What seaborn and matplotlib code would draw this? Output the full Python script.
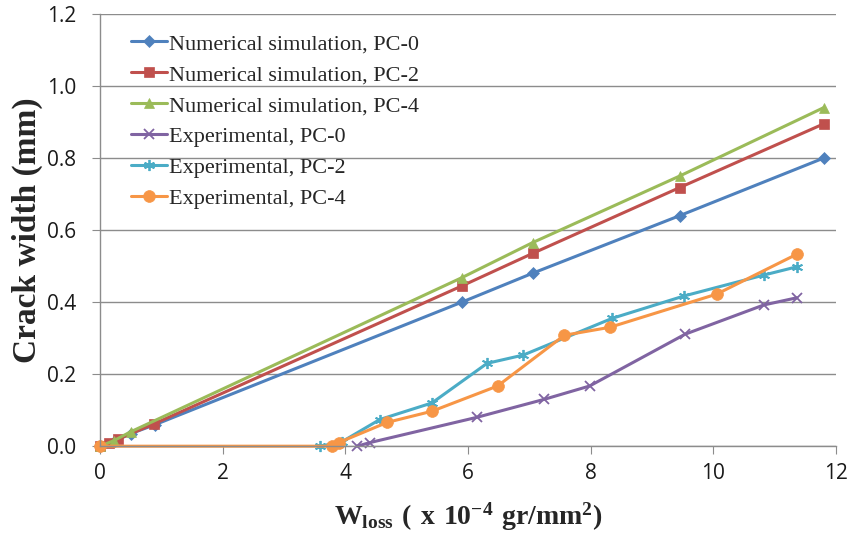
import matplotlib
matplotlib.use("Agg")
import matplotlib.pyplot as plt
import seaborn as sns
import pandas as pd

# data
num_pc0_x = [0, 0.25, 0.5, 0.9, 5.9, 7.05, 9.45, 11.8]
num_pc0_y = [0, 0.015, 0.035, 0.06, 0.40, 0.48, 0.64, 0.80]
num_pc2_x = [0, 0.15, 0.3, 0.88, 5.9, 7.05, 9.45, 11.8]
num_pc2_y = [0, 0.01, 0.02, 0.062, 0.445, 0.535, 0.718, 0.895]
num_pc4_x = [0, 0.22, 0.5, 5.9, 7.05, 9.45, 11.8]
num_pc4_y = [0, 0.015, 0.04, 0.468, 0.565, 0.75, 0.94]
exp_pc0_x = [4.19, 4.40, 6.14, 7.24, 7.98, 9.54, 10.82, 11.36]
exp_pc0_y = [0.0, 0.01, 0.08, 0.13, 0.167, 0.311, 0.392, 0.412]
exp_pc2_x = [3.59, 3.94, 4.56, 5.41, 6.31, 6.90, 8.35, 9.52, 10.82, 11.36]
exp_pc2_y = [0.0, 0.012, 0.074, 0.12, 0.23, 0.253, 0.355, 0.417, 0.475, 0.498]
exp_pc4_x = [0, 3.78, 3.89, 4.68, 5.41, 6.48, 7.57, 8.31, 10.05, 11.36]
exp_pc4_y = [0, 0.0, 0.01, 0.066, 0.097, 0.167, 0.308, 0.33, 0.422, 0.533]

series_names = ["Numerical simulation, PC-0", "Numerical simulation, PC-2",
                "Numerical simulation, PC-4", "Experimental, PC-0",
                "Experimental, PC-2", "Experimental, PC-4"]
series_x = [num_pc0_x, num_pc2_x, num_pc4_x, exp_pc0_x, exp_pc2_x, exp_pc4_x]
series_y = [num_pc0_y, num_pc2_y, num_pc4_y, exp_pc0_y, exp_pc2_y, exp_pc4_y]

colors = ["#4F81BD", "#C0504D", "#9BBB59", "#8064A2", "#4BACC6", "#F79646"]
markers = ["D", "s", "^", "x", (6, 2, 0), "o"]
msizes = [6, 7, 7.5, 7, 8, 8.5]

sns.set_style("white")
plt.rcParams["mathtext.fontset"] = "custom"
plt.rcParams["mathtext.rm"] = "Liberation Serif"
plt.rcParams["mathtext.bf"] = "Liberation Serif:bold"

fig, ax = plt.subplots(figsize=(8.48, 5.35), dpi=100)
fig.subplots_adjust(left=0.118, right=0.986, bottom=0.166, top=0.974)

for name, xs, ys, c, m, s in zip(series_names, series_x, series_y, colors, markers, msizes):
    df = pd.DataFrame({"x": xs, "y": ys})
    sns.lineplot(data=df, x="x", y="y", ax=ax, color=c, marker=m, markersize=s,
                 markeredgecolor=c, markeredgewidth=1.3 if m in ("x", (6, 2, 0)) else 0.5,
                 linewidth=2.2, estimator=None, sort=False, label=name, clip_on=False)

ax.set_xlim(0, 12)
ax.set_ylim(0, 1.2)
ax.set_xticks(range(0, 13, 2))
ax.set_yticks([0, 0.2, 0.4, 0.6, 0.8, 1.0, 1.2])
ax.set_yticklabels(["0.0", "0.2", "0.4", "0.6", "0.8", "1.0", "1.2"])
ax.yaxis.grid(True, color="#8c8c8c", linewidth=1)
ax.set_axisbelow(True)
for sp in ["top", "right"]:
    ax.spines[sp].set_visible(False)
for sp in ["left", "bottom"]:
    ax.spines[sp].set_color("#8c8c8c")
    ax.spines[sp].set_linewidth(1)
ax.tick_params(axis="both", direction="out", length=6, color="#8c8c8c",
               labelsize=15, labelcolor="#1a1a1a", bottom=True, left=True)
ax.tick_params(axis="y", pad=11)
ax.tick_params(axis="x", pad=6)
for lab in ax.get_xticklabels() + ax.get_yticklabels():
    lab.set_family("Open Sans")

ax.set_ylabel("Crack width (mm)", family="Liberation Serif", fontweight="bold",
              fontsize=24, labelpad=3)
ax.set_xlabel(r"$\mathbf{W_{loss}\ (\ x\ 10^{-4}\ gr/mm^{2})}$", fontsize=20, labelpad=12)

leg = ax.legend(loc="upper left", bbox_to_anchor=(0.03, 0.975), frameon=False,
                prop={"family": "Liberation Serif", "size": 16},
                handlelength=1.6, handletextpad=0.1, labelspacing=0.47,
                borderaxespad=0)

fig.savefig("out.png", dpi=100)
